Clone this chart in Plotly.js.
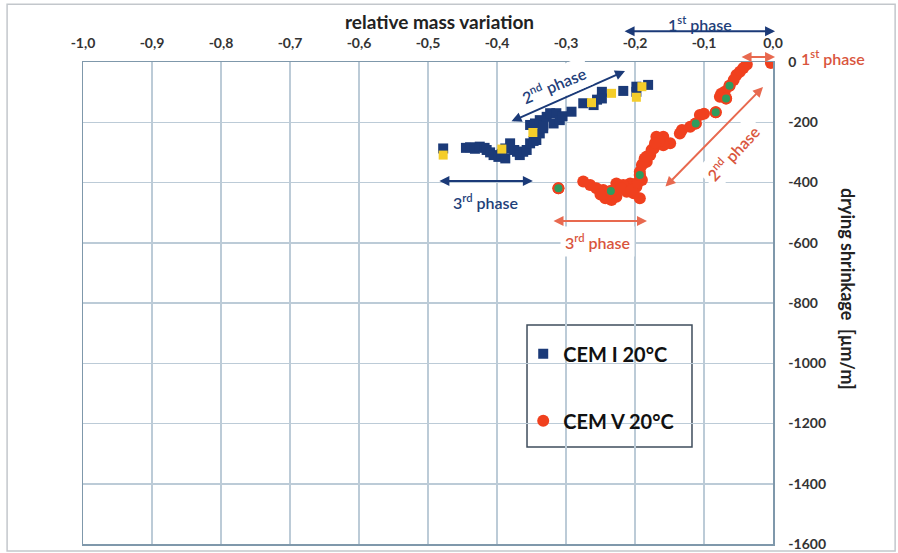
<!DOCTYPE html>
<html>
<head>
<meta charset="utf-8">
<script src="https://cdn.plot.ly/plotly-3.0.1.min.js"></script>
<style>html,body{margin:0;padding:0;background:#fff;}#chart{width:898px;height:553px;}</style>
</head>
<body>
<div id="chart"></div>
<script>
// ---- Data ----
// CEM I 20°C (blue squares): relative mass variation vs drying shrinkage [µm/m]
const cem1X = [-0.478,-0.445,-0.439,-0.432,-0.425,-0.418,-0.415,-0.410,-0.405,-0.398,-0.393,-0.388,-0.388,-0.381,-0.375,-0.371,-0.367,-0.362,-0.357,-0.352,-0.347,-0.343,-0.352,-0.338,-0.333,-0.345,-0.338,-0.333,-0.328,-0.323,-0.318,-0.314,-0.309,-0.305,-0.292,-0.275,-0.260,-0.255,-0.248,-0.248,-0.217,-0.198,-0.198,-0.181,0.000];
const cem1Y = [-287,-285,-283,-288,-281,-285,-292,-300,-309,-315,-305,-320,-287,-270,-292,-298,-309,-298,-292,-270,-262,-259,-209,-237,-220,-204,-193,-210,-182,-170,-204,-170,-193,-180,-165,-137,-143,-125,-99,-121,-96,-99,-82,-76,0];
// CEM I highlighted points (yellow squares)
const cem1HiX = [-0.478,-0.393,-0.348,-0.263,-0.234,-0.198,-0.190];
const cem1HiY = [-309,-289,-234,-135,-104,-117,-82];

// CEM V 20°C (red circles)
const cem5X = [-0.003,-0.038,-0.043,-0.048,-0.053,-0.057,-0.063,-0.070,-0.075,-0.077,-0.068,-0.083,-0.100,-0.106,-0.112,-0.120,-0.132,-0.135,-0.159,-0.169,-0.149,-0.159,-0.165,-0.173,-0.178,-0.186,-0.190,-0.183,-0.193,-0.188,-0.183,-0.176,-0.171,-0.193,-0.190,-0.198,-0.193,-0.202,-0.212,-0.207,-0.217,-0.227,-0.227,-0.234,-0.243,-0.235,-0.246,-0.256,-0.265,-0.275,-0.311,-0.220,-0.205,-0.238,-0.250,-0.196];
const cem5Y = [-3,-8,-20,-32,-43,-60,-79,-99,-105,-115,-121,-167,-172,-176,-204,-215,-226,-237,-248,-248,-270,-276,-262,-287,-309,-320,-342,-331,-364,-336,-314,-292,-270,-375,-392,-414,-452,-436,-431,-403,-408,-403,-447,-458,-452,-428,-425,-419,-408,-397,-419,-420,-425,-440,-440,-400];
// CEM V highlighted points (green circles)
const cem5HiX = [-0.311,-0.235,-0.193,-0.112,-0.083,-0.068,-0.063];
const cem5HiY = [-419,-428,-375,-204,-167,-121,-79];

// Axis ticks
const xTickVals = [-1.0,-0.9,-0.8,-0.7,-0.6,-0.5,-0.4,-0.3,-0.2,-0.1,0.0];
const xTickText = ['-1,0','-0,9','-0,8','-0,7','-0,6','-0,5','-0,4','-0,3','-0,2','-0,1','0,0'];
const yTickVals = [0,-200,-400,-600,-800,-1000,-1200,-1400,-1600];
const yTickText = ['0','-200','-400','-600','-800','-1000','-1200','-1400','-1600'];

// ---- Styles ----
const FONT = 'Lato, "Open Sans", sans-serif';
const BLUE = '#1b3a78';
const NAVY_TXT = '#1f3f7a';
const RED = '#f0401e';
const RED_TXT = '#d9553d';
const RED_ARW = '#e8694f';
const GRID = '#bccbd7';
const AXLINE = '#7f98ab';

const traces = [
  {x: cem1X, y: cem1Y, type: 'scatter', mode: 'markers', name: 'CEM I 20°C', legendgroup: 'g1',
   marker: {symbol: 'square', size: 10, color: BLUE, line: {width: 0}}},
  {x: cem1HiX, y: cem1HiY, type: 'scatter', mode: 'markers', showlegend: false, legendgroup: 'g1',
   marker: {symbol: 'square', size: 9, color: '#f4cd2a', line: {width: 0}}},
  {x: cem5X, y: cem5Y, type: 'scatter', mode: 'markers', name: 'CEM V 20°C', legendgroup: 'g2',
   marker: {symbol: 'circle', size: 12, color: RED, line: {width: 0}}},
  {x: cem5HiX, y: cem5HiY, type: 'scatter', mode: 'markers', showlegend: false, legendgroup: 'g2',
   marker: {symbol: 'circle', size: 12, color: RED, line: {width: 0}}},
  {x: cem5HiX, y: cem5HiY, type: 'scatter', mode: 'markers', showlegend: false, legendgroup: 'g2',
   marker: {symbol: 'circle', size: 8, color: '#2f9c5e', line: {width: 0}}}
];

function arrow(x, y, ax, ay, color) {
  return {xref: 'paper', yref: 'paper', x: x, y: y, ax: ax, ay: ay, text: '', showarrow: true,
    arrowside: 'end+start', arrowhead: 2, startarrowhead: 2, arrowsize: 1, startarrowsize: 1,
    arrowwidth: 2, arrowcolor: color};
}
function label(x, y, html, color, angle, bg) {
  return {xref: 'paper', yref: 'paper', x: x, y: y, text: html, showarrow: false,
    textangle: angle || 0, bgcolor: bg ? '#ffffff' : 'rgba(0,0,0,0)', borderpad: 4,
    font: {family: FONT, size: 16, color: color, weight: 600}, xanchor: 'center', yanchor: 'middle'};
}

const layout = {
  width: 898, height: 553,
  margin: {l: 83, r: 125, t: 62, b: 9},
  paper_bgcolor: '#ffffff', plot_bgcolor: '#ffffff',
  font: {family: FONT, color: '#222'},
  showlegend: true,
  legend: {x: 0.638, y: 0.435, xanchor: 'left', yanchor: 'top', bgcolor: 'rgba(0,0,0,0)',
    borderwidth: 0, tracegroupgap: 38, traceorder: 'grouped',
    font: {family: FONT, size: 20, color: '#111', weight: 'bold'}},
  xaxis: {side: 'top', range: [-1, 0], tickvals: xTickVals, ticktext: xTickText,
    showgrid: true, gridcolor: GRID, gridwidth: 1.5, zeroline: false,
    showline: true, mirror: true, linecolor: AXLINE, linewidth: 1.5,
    ticks: 'outside', ticklen: 7, tickcolor: 'rgba(0,0,0,0)',
    tickfont: {family: FONT, size: 14, color: '#333', weight: 'bold'}},
  yaxis: {side: 'right', range: [-1600, 0], tickvals: yTickVals, ticktext: yTickText,
    showgrid: true, gridcolor: GRID, gridwidth: 1.5, zeroline: false,
    showline: true, mirror: true, linecolor: AXLINE, linewidth: 1.5,
    ticks: 'outside', ticklen: 11, tickcolor: 'rgba(0,0,0,0)',
    tickfont: {family: FONT, size: 14, color: '#333', weight: 'bold'}},
  shapes: [
    {type: 'rect', xref: 'paper', yref: 'paper', x0: -0.110, x1: 1.177, y0: -0.0145, y1: 1.120,
     line: {color: '#c3c7cc', width: 1.5}, fillcolor: 'rgba(0,0,0,0)', layer: 'below'},
    {type: 'rect', xref: 'paper', yref: 'paper', x0: 0.6435, x1: 0.8826, y0: 0.2012, y1: 0.4544,
     line: {color: '#3f4d5c', width: 1.5}, fillcolor: '#ffffff', layer: 'between'}
  ],
  annotations: [
    {xref: 'paper', yref: 'paper', x: 0.516, y: 1.083, text: 'relative mass variation', showarrow: false,
     font: {family: FONT, size: 19, color: '#222', weight: 'bold'}, xanchor: 'center', yanchor: 'middle'},
    {xref: 'paper', yref: 'paper', x: 1.1087, y: 0.529, text: 'drying shrinkage  [µm/m]', showarrow: false,
     textangle: 90, font: {family: FONT, size: 18, color: '#222', weight: 'bold'}, xanchor: 'center', yanchor: 'middle'},
    // blue phases
    arrow(1.003, 1.064, -152, 0, BLUE),
    label(0.894, 1.079, '1<sup>st</sup> phase', NAVY_TXT, 0, false),
    arrow(0.7855, 0.9813, -115, 51, BLUE),
    label(0.6826, 0.953, '2<sup>nd</sup> phase', NAVY_TXT, -23, true),
    arrow(0.652, 0.7531, -95, 0, BLUE),
    label(0.584, 0.7116, '3<sup>rd</sup> phase', NAVY_TXT, 0, false),
    // red phases
    arrow(1.003, 1.0104, -35, 0, RED_ARW),
    label(1.0875, 1.0083, '1<sup>st</sup> phase', RED_TXT, 0, false),
    arrow(0.9855, 0.948, -99, 101, RED_ARW),
    label(0.9406, 0.811, '2<sup>nd</sup> phase', RED_TXT, -47, true),
    arrow(0.8174, 0.670, -95, 0, RED_ARW),
    label(0.745, 0.6266, '3<sup>rd</sup> phase', RED_TXT, 0, true)
  ]
};

Plotly.newPlot('chart', traces, layout, {displayModeBar: false, staticPlot: true});
</script>
</body>
</html>
